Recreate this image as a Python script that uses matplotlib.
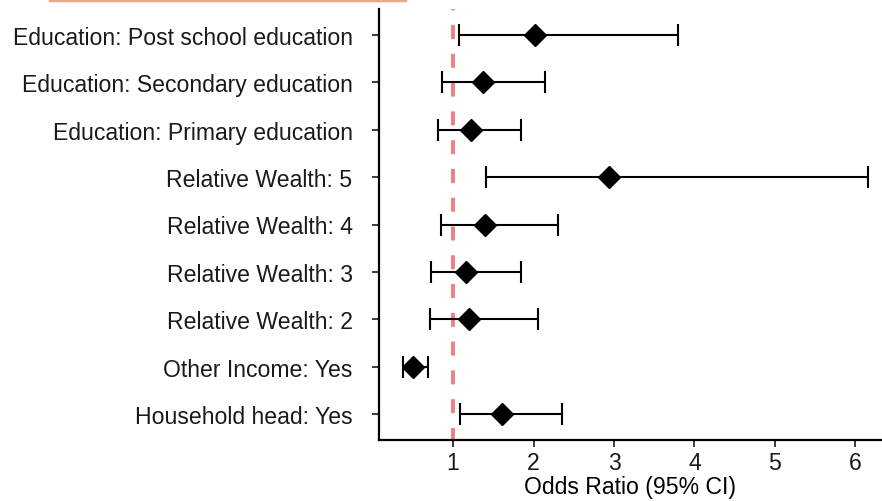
"""Forest plot of odds ratios with 95% confidence intervals."""

import matplotlib.pyplot as plt
from matplotlib.lines import Line2D

TEXT = "#1A1A1A"
REF_LINE = "#F08080"
ACCENT = "#E8A98E"

labels = [
    "Education: Post school education",
    "Education: Secondary education",
    "Education: Primary education",
    "Relative Wealth: 5",
    "Relative Wealth: 4",
    "Relative Wealth: 3",
    "Relative Wealth: 2",
    "Other Income: Yes",
    "Household head: Yes",
]
odds_ratio = [2.02, 1.37, 1.22, 2.94, 1.40, 1.16, 1.20, 0.50, 1.61]
ci_low = [1.07, 0.86, 0.81, 1.41, 0.85, 0.73, 0.71, 0.375, 1.09]
ci_high = [3.80, 2.14, 1.84, 6.16, 2.30, 1.85, 2.06, 0.69, 2.35]
xticks = [1, 2, 3, 4, 5, 6]

plt.rcParams.update({"font.family": ["Liberation Sans", "DejaVu Sans"], "font.size": 16.6})

fig = plt.figure(figsize=(8.82, 5.02), dpi=100)
ax = fig.add_axes([379 / 882, 1 - 441 / 502, 1 - 379 / 882, 431 / 502])

n = len(labels)
ypos = [n - i for i in range(n)]

ax.axvline(1, color=REF_LINE, lw=2.8, ls=(0.5, (3.6, 3.8)), zorder=1)

err_lo = [o - l for o, l in zip(odds_ratio, ci_low)]
err_hi = [h - o for o, h in zip(odds_ratio, ci_high)]
ax.errorbar(
    odds_ratio, ypos, xerr=[err_lo, err_hi],
    fmt="D", color="black", ms=11, elinewidth=1.5, capsize=8, capthick=1.5, zorder=3,
)

ax.set_yticks(ypos)
ax.set_yticklabels(labels)
ax.set_xticks(xticks)
ax.set_xlim(0.08, 6.33)
ax.set_ylim(0.45, n + 0.55)
ax.set_xlabel("Odds Ratio (95% CI)", labelpad=1)

for side in ("top", "right"):
    ax.spines[side].set_visible(False)
for side in ("left", "bottom"):
    ax.spines[side].set_linewidth(1.6)
ax.tick_params(axis="both", length=5, width=1.2, colors=TEXT, labelcolor=TEXT)
ax.tick_params(axis="y", pad=14)
ax.tick_params(axis="x", pad=3)

fig.add_artist(Line2D([50 / 882, 405 / 882], [1 - 1 / 502, 1 - 1 / 502], color=ACCENT, lw=2.5))

fig.savefig("out.png", dpi=100)
